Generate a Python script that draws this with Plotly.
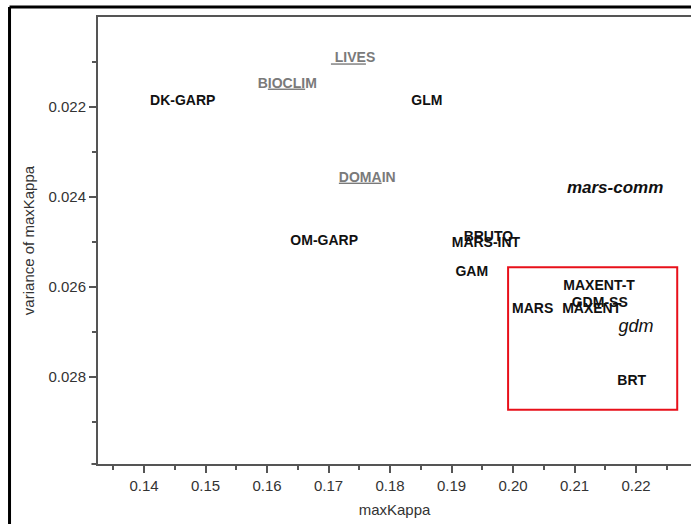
import plotly.graph_objects as go

# ---- data ----
methods = ["LIVES", "BIOCLIM", "DK-GARP", "GLM", "DOMAIN", "mars-comm", "OM-GARP",
           "BRUTO", "MARS-INT", "GAM", "MAXENT-T", "GDM-SS", "MARS", "MAXENT", "gdm", "BRT"]
max_kappa = [0.1740, 0.1633, 0.1463, 0.1860, 0.1763, 0.2166, 0.1693,
             0.1960, 0.1956, 0.1933, 0.2140, 0.2141, 0.2032, 0.2128, 0.2200, 0.2193]
var_kappa = [0.02093, 0.02149, 0.02188, 0.02188, 0.02358, 0.02382, 0.02498,
             0.02489, 0.02504, 0.02567, 0.02598, 0.02636, 0.02649, 0.02649, 0.02690, 0.02809]
# label styling groups
groups = ["pres", "pres", "bold", "bold", "pres", "comm", "bold",
          "bold", "bold", "bold", "bold", "bold", "bold", "bold", "comm2", "bold"]
# display text (partial underline as in the original)
display = {"LIVES": "<u> LIVE</u>S", "BIOCLIM": "B<u>IOCLI</u>M", "DOMAIN": "<u>DOMA</u>IN"}

x_ticks = [0.14, 0.15, 0.16, 0.17, 0.18, 0.19, 0.20, 0.21, 0.22]
x_ticktext = ["0.14", "0.15", "0.16", "0.17", "0.18", "0.19", "0.20", "0.21", "0.22"]
y_ticks = [0.022, 0.024, 0.026, 0.028]
y_ticktext = ["0.022", "0.024", "0.026", "0.028"]
x_range = [0.13252, 0.22894]
y_range = [0.029933, 0.0200]

# highlight box (top-performing group)
box_kappa = [0.1992, 0.2267]
box_var = [0.02556, 0.02873]

FONT = "Arial, 'Liberation Sans', sans-serif"

texts, colors, sizes = [], [], []
for m, g in zip(methods, groups):
    t = display.get(m, m)
    if g == "pres":
        texts.append("<b>" + t + "</b>")
        colors.append("#7a7a7a")
        sizes.append(14)
    elif g == "comm":
        texts.append("<b><i>" + t + "</i></b>")
        colors.append("#111111")
        sizes.append(17)
    elif g == "comm2":
        texts.append("<i>" + t + "</i>")
        colors.append("#111111")
        sizes.append(18)
    else:
        texts.append("<b>" + t + "</b>")
        colors.append("#111111")
        sizes.append(14)

fig = go.Figure()
fig.add_trace(go.Scatter(
    x=max_kappa, y=var_kappa, mode="text", text=texts,
    textposition="middle center",
    textfont=dict(family=FONT, size=sizes, color=colors),
    hoverinfo="skip", showlegend=False, cliponaxis=False,
))

axis_color = "#555555"
fig.update_layout(
    width=691, height=524,
    margin=dict(l=98, r=0, t=17, b=60),
    paper_bgcolor="white", plot_bgcolor="white",
    font=dict(family=FONT, color="#333333", size=15),
    xaxis=dict(
        range=x_range, tickvals=x_ticks, ticktext=x_ticktext,
        showgrid=False, zeroline=False, showline=True, linecolor=axis_color, linewidth=2,
        mirror=True, ticks="outside", ticklen=7, tickwidth=1.5, tickcolor=axis_color,
        minor=dict(dtick=0.01, tick0=0.135, ticks="outside", ticklen=4, tickcolor=axis_color, tickwidth=1.5),
        tickfont=dict(size=15, color="#333333"),
        title=dict(text="maxKappa", font=dict(size=15, color="#333333"), standoff=11),
    ),
    yaxis=dict(
        range=y_range, tickvals=y_ticks, ticktext=y_ticktext,
        showgrid=False, zeroline=False, showline=True, linecolor=axis_color, linewidth=2,
        ticks="outside", ticklen=7, tickwidth=1.5, tickcolor=axis_color,
        minor=dict(dtick=0.002, tick0=0.021, ticks="outside", ticklen=4, tickcolor=axis_color, tickwidth=1.5),
        tickfont=dict(size=15, color="#333333"),
        title=dict(text="variance of maxKappa", font=dict(size=15, color="#333333"), standoff=10),
    ),
)

# red highlight rectangle
fig.add_shape(type="rect", xref="x", yref="y",
              x0=box_kappa[0], x1=box_kappa[1], y0=box_var[0], y1=box_var[1],
              line=dict(color="#e8101a", width=2), fillcolor="rgba(0,0,0,0)")

# x-axis line overhang to the left of the y axis
fig.add_shape(type="line", xref="paper", yref="paper",
              x0=-0.011, x1=0, y0=0, y1=0,
              line=dict(color=axis_color, width=2))

# outer black frame (top and left edges of the figure panel)
fig.add_shape(type="line", xref="paper", yref="paper",
              x0=-0.1492, x1=1.01, y0=1.0224, y1=1.0224,
              line=dict(color="black", width=3))
fig.add_shape(type="line", xref="paper", yref="paper",
              x0=-0.1492, x1=-0.1492, y0=1.0224, y1=-0.14,
              line=dict(color="black", width=3))

fig.write_html("out.html",
               config={"displayModeBar": False},
               post_script="document.body.style.margin='0';document.body.style.overflow='hidden';")
